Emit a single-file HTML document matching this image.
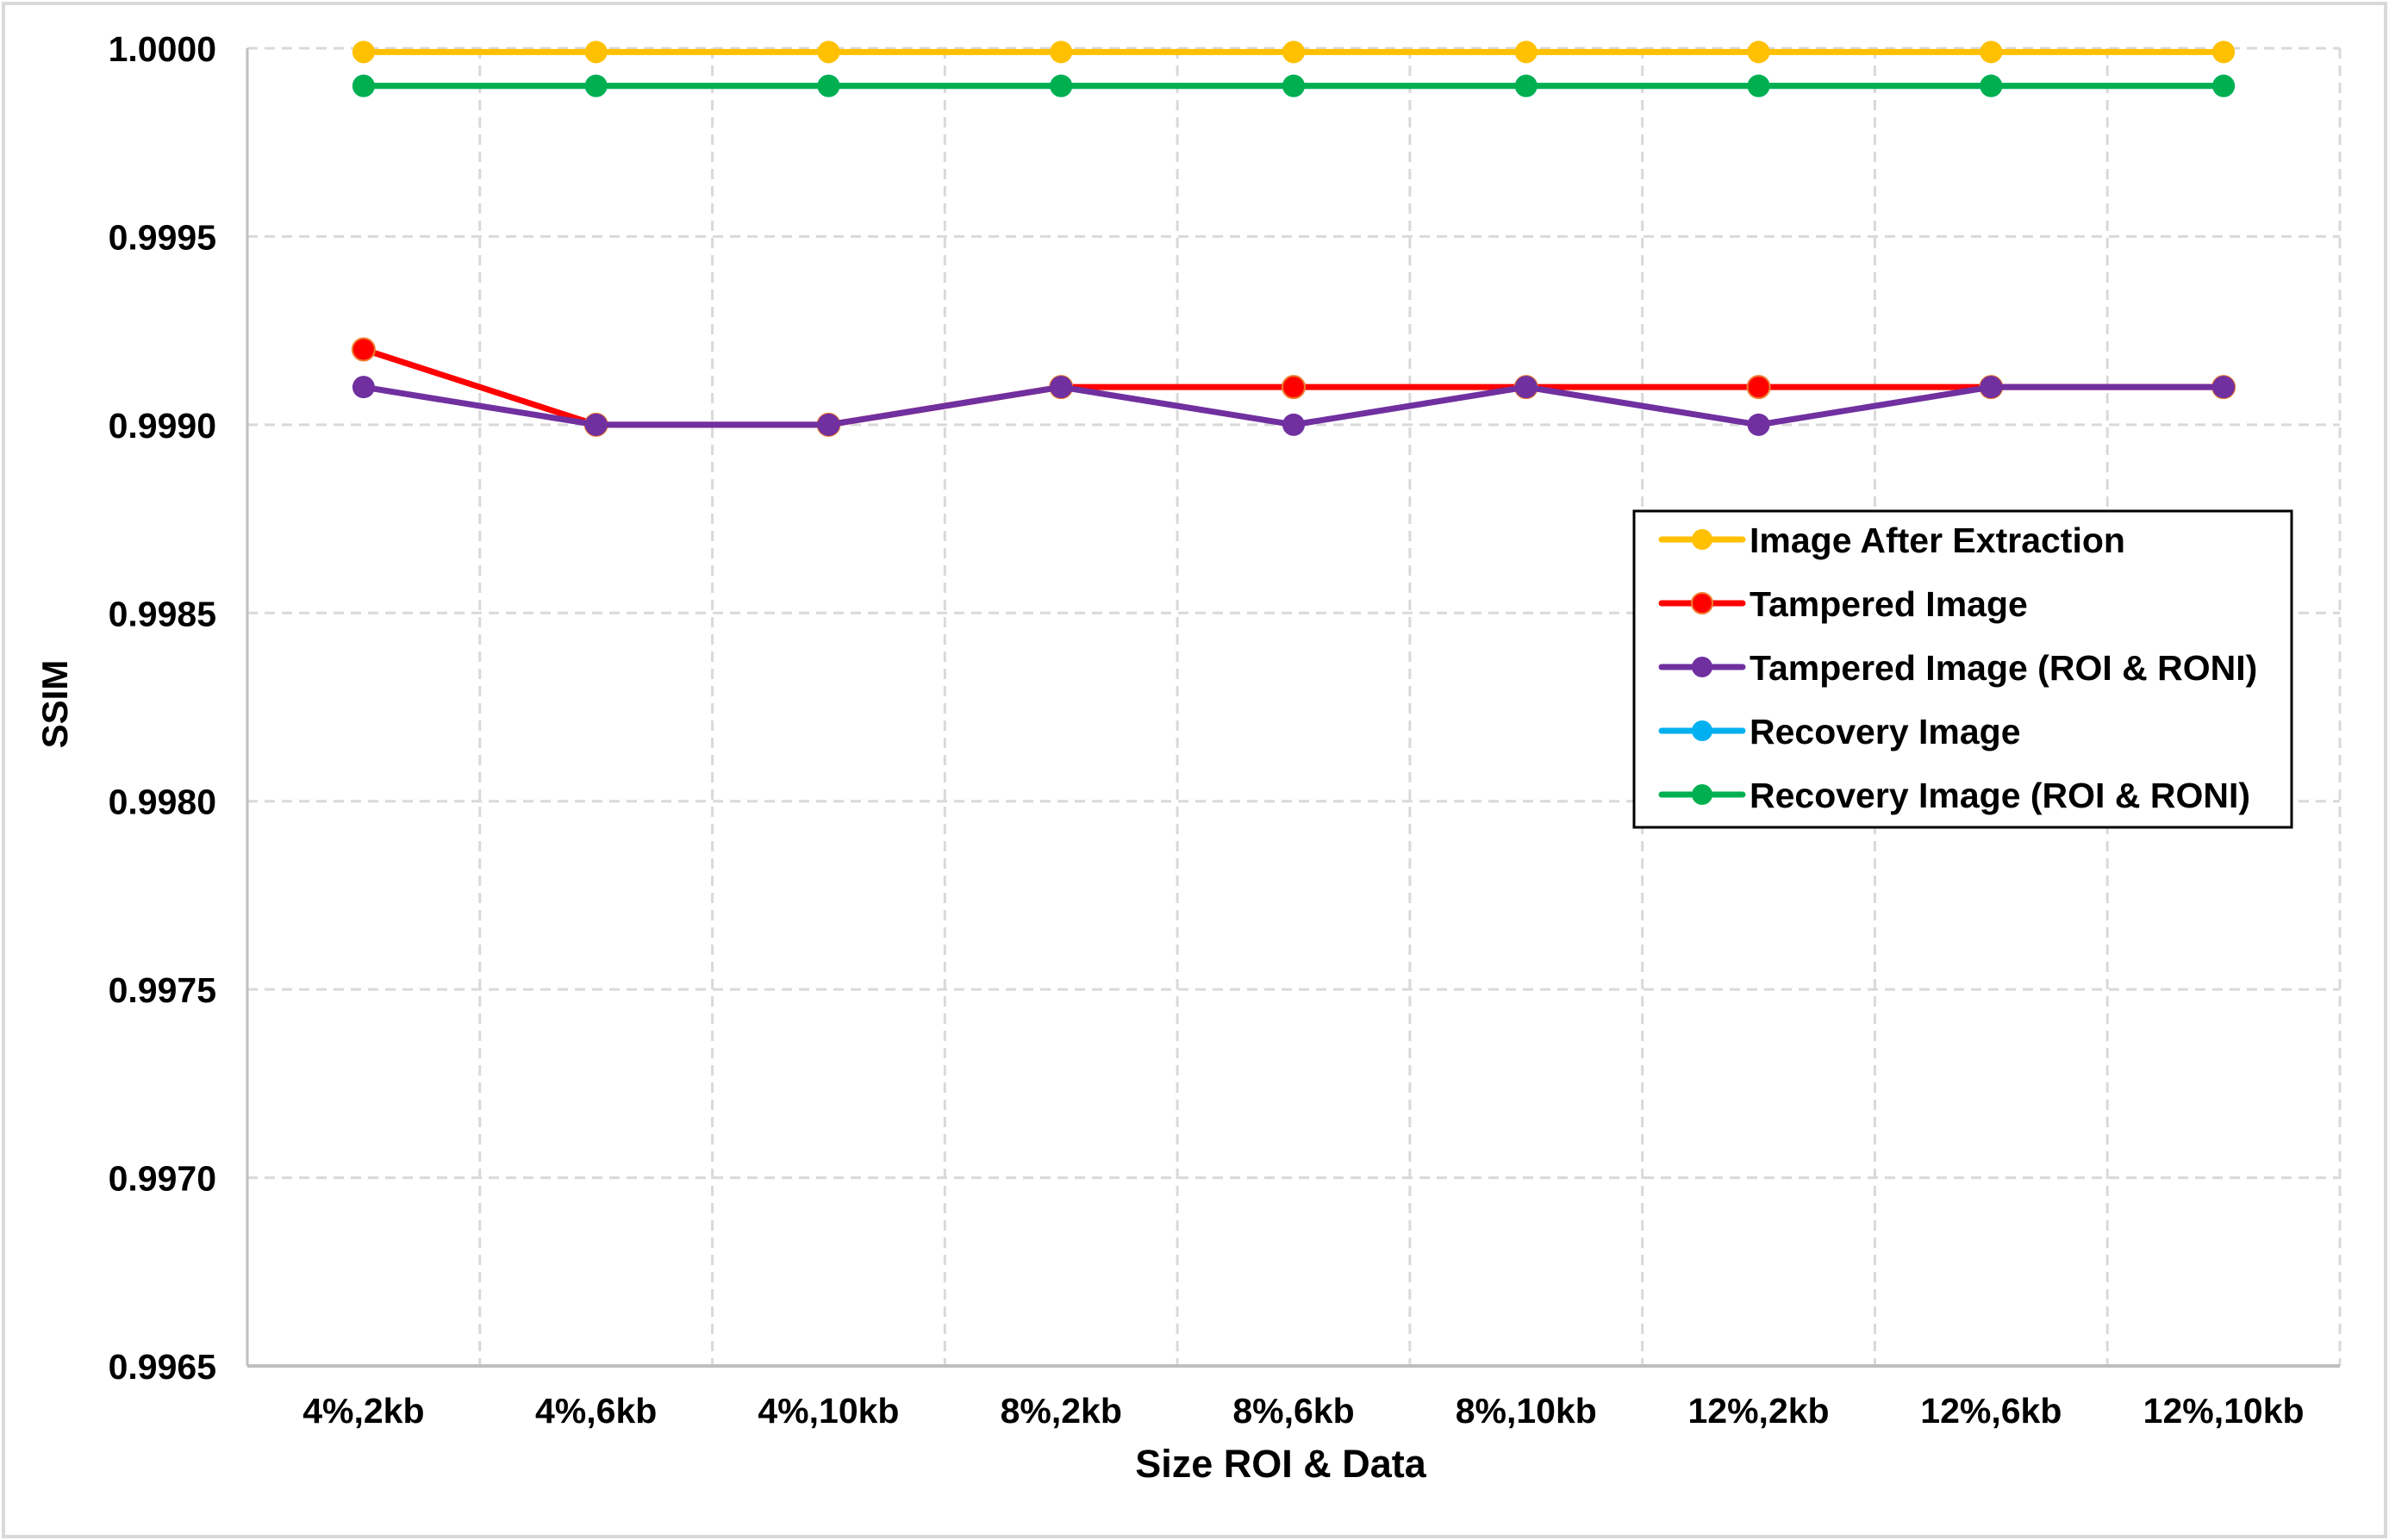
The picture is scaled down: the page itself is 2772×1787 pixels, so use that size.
<!DOCTYPE html>
<html><head><meta charset="utf-8"><style>
html,body{margin:0;padding:0;background:#fff;}
svg{display:block;font-family:"Liberation Sans",Arial,sans-serif;font-weight:bold;}
</style></head><body>
<svg id="chart" width="2772" height="1787" viewBox="0 0 2772 1787" xmlns="http://www.w3.org/2000/svg">
<rect x="4" y="4" width="2764" height="1779" fill="#fff" stroke="#d9d9d9" stroke-width="4"/>
<g id="grid"></g>
<g id="axes"></g>
<g id="series"></g>
<text x="67" y="817" font-size="42" text-anchor="middle" transform="rotate(-90 67 817)" dominant-baseline="middle">SSIM</text>
<text x="1486" y="1714" font-size="45" text-anchor="middle">Size ROI &amp; Data</text>
<g id="legend"></g>
</svg>
<script>
const categories = ["4%,2kb","4%,6kb","4%,10kb","8%,2kb","8%,6kb","8%,10kb","12%,2kb","12%,6kb","12%,10kb"];
const yTicks = [1.0000,0.9995,0.9990,0.9985,0.9980,0.9975,0.9970,0.9965];
const seriesNames = ["Image After Extraction","Tampered Image","Tampered Image (ROI & RONI)","Recovery Image","Recovery Image (ROI & RONI)"];
const seriesColors = ["#ffc000","#ff0000","#7030a0","#00b0f0","#00b050"];
const afterExtraction = [0.99999,0.99999,0.99999,0.99999,0.99999,0.99999,0.99999,0.99999,0.99999];
const tampered = [0.9992,0.9990,0.9990,0.9991,0.9991,0.9991,0.9991,0.9991,0.9991];
const tamperedRoi = [0.9991,0.9990,0.9990,0.9991,0.9990,0.9991,0.9990,0.9991,0.9991];
const recovery = [0.9999,0.9999,0.9999,0.9999,0.9999,0.9999,0.9999,0.9999,0.9999];
const recoveryRoi = [0.9999,0.9999,0.9999,0.9999,0.9999,0.9999,0.9999,0.9999,0.9999];
const allSeries = [afterExtraction,tampered,tamperedRoi,recovery,recoveryRoi];

const NS="http://www.w3.org/2000/svg";
const L=287,R=2715,T=56,B=1585,yMin=0.9965,yMax=1.0;
const band=(R-L)/categories.length;
const xs=i=>L+band*(i+0.5);
const ys=v=>B-(v-yMin)/(yMax-yMin)*(B-T);
function mk(tag,attrs,parent){const e=document.createElementNS(NS,tag);for(const k in attrs)e.setAttribute(k,attrs[k]);parent.appendChild(e);return e;}
const grid=document.getElementById('grid'),axes=document.getElementById('axes'),ser=document.getElementById('series'),leg=document.getElementById('legend');
yTicks.forEach((t,i)=>{
  const y=ys(t);
  if(t>yMin){const g=mk('line',{x1:L,x2:R,y1:y,y2:y,stroke:'#d9d9d9','stroke-width':3,'stroke-dasharray':'12,8'},grid);
  
  }
  const tx=mk('text',{x:251,y:y+15,'font-size':41,'text-anchor':'end'},axes);tx.textContent=t.toFixed(4);
  
  
});
for(let i=1;i<=categories.length;i++){
  const x=L+band*i;
  const g=mk('line',{x1:x,x2:x,y1:T,y2:B,stroke:'#d9d9d9','stroke-width':3,'stroke-dasharray':'12,8'},grid);
  
  
}
const ax1=mk('line',{x1:L,x2:L,y1:T,y2:B,stroke:'#bfbfbf','stroke-width':3},axes);


const ax2=mk('line',{x1:L,x2:R,y1:B,y2:B,stroke:'#bfbfbf','stroke-width':4},axes);


categories.forEach((c,i)=>{
  const tx=mk('text',{x:xs(i),y:1651,'font-size':41,'text-anchor':'middle'},axes);tx.textContent=c;
  
  
});
allSeries.forEach((vals,s)=>{
  const g=mk('g',{},ser);
  
  
  const pts=vals.map((v,i)=>xs(i)+','+ys(v)).join(' ');
  const pl=mk('polyline',{points:pts,fill:'none',stroke:seriesColors[s],'stroke-width':7,'stroke-linejoin':'round'},g);
  
  
  vals.forEach((v,i)=>{
    const c=mk('circle',{cx:xs(i),cy:ys(v),r:13,fill:seriesColors[s],stroke:s===1?'#ed7d31':'none','stroke-width':2},g);
    
    
  });
});
const box=mk('rect',{x:1896,y:593,width:763,height:367,fill:'#fff',stroke:'#000','stroke-width':3},leg);


const ly=[626,700,774,848,922];
seriesNames.forEach((n,s)=>{
  const g=mk('g',{},leg);
  
  
  mk('line',{x1:1928,x2:2022,y1:ly[s],y2:ly[s],stroke:seriesColors[s],'stroke-width':7,'stroke-linecap':'round'},g);
  mk('circle',{cx:1975,cy:ly[s],r:12,fill:seriesColors[s],stroke:s===1?'#ed7d31':'none','stroke-width':2},g);
  const tx=mk('text',{x:2030,y:ly[s]+15,'font-size':41},g);tx.textContent=n;
  
  
});
</script>
</body></html>
